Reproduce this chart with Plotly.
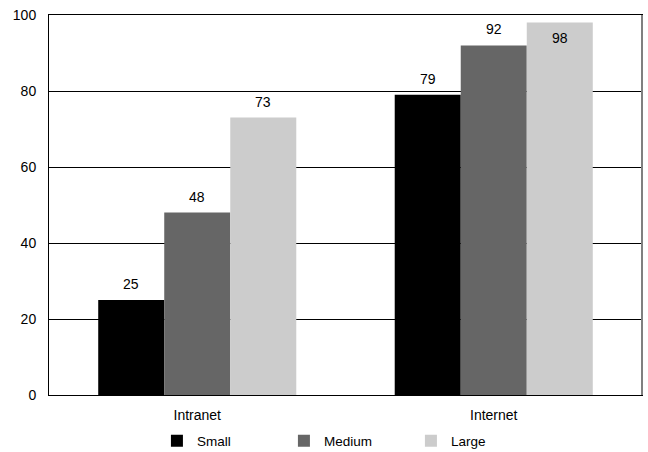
import plotly.graph_objects as go

categories = ["Intranet", "Internet"]
series_names = ["Small", "Medium", "Large"]
small = [25, 79]
medium = [48, 92]
large = [73, 98]
colors = ["#000000", "#666666", "#cccccc"]
y_ticks = [0, 20, 40, 60, 80, 100]

values = [small, medium, large]
bargap = 0.332
FAM = "Liberation Sans, Arial, sans-serif"
font = dict(family=FAM, size=14, color="#000000")
legend_font = dict(family=FAM, size=13.5, color="#000000")

fig = go.Figure()
xs = list(range(len(categories)))
for name, vals, col in zip(series_names, values, colors):
    fig.add_trace(go.Bar(x=xs, y=vals, name=name, marker=dict(color=col, line=dict(width=0))))

# value labels
bw = (1 - bargap) / len(series_names)
annotations = []
for j, vals in enumerate(values):
    for i, v in enumerate(vals):
        xpos = i + (j - (len(series_names) - 1) / 2) * bw
        if v >= 95:
            annotations.append(dict(x=xpos, y=v, xref="x", yref="y", text=str(v), showarrow=False,
                                    yanchor="top", yshift=-5, font=font))
        else:
            annotations.append(dict(x=xpos, y=v, xref="x", yref="y", text=str(v), showarrow=False,
                                    yanchor="bottom", yshift=6, font=font))

fig.update_layout(
    width=648, height=452,
    margin=dict(l=49, r=6, t=15, b=57, autoexpand=False),
    paper_bgcolor="white", plot_bgcolor="white",
    barmode="group", bargap=bargap, bargroupgap=0,
    font=font,
    showlegend=True,
    legend=dict(orientation="h", x=0.182, xanchor="left", yref="container", y=11 / 452,
                yanchor="middle", entrywidth=82, entrywidthmode="pixels", font=legend_font,
                bgcolor="rgba(0,0,0,0)", traceorder="normal"),
    annotations=annotations,
    shapes=[dict(type="line", xref="paper", yref="paper", x0=1, x1=1, y0=0, y1=1,
                 line=dict(color="#808080", width=2))],
)
fig.update_xaxes(range=[-0.5, 1.5], tickvals=xs, ticktext=categories, showgrid=False,
                 showline=True, mirror=True, linecolor="#000000", linewidth=1,
                 ticks="", ticklabelstandoff=7, tickfont=font, fixedrange=True, zeroline=False)
fig.update_yaxes(range=[0, 100], tickvals=y_ticks, showgrid=True, gridcolor="#000000", gridwidth=1,
                 showline=True, mirror=True, linecolor="#000000", linewidth=1,
                 ticks="", ticklabelstandoff=9, tickfont=font, zeroline=False, fixedrange=True)

fig.write_html("out.html", config={"displayModeBar": False},
               post_script="document.body.style.margin='0';document.body.style.padding='0';")
